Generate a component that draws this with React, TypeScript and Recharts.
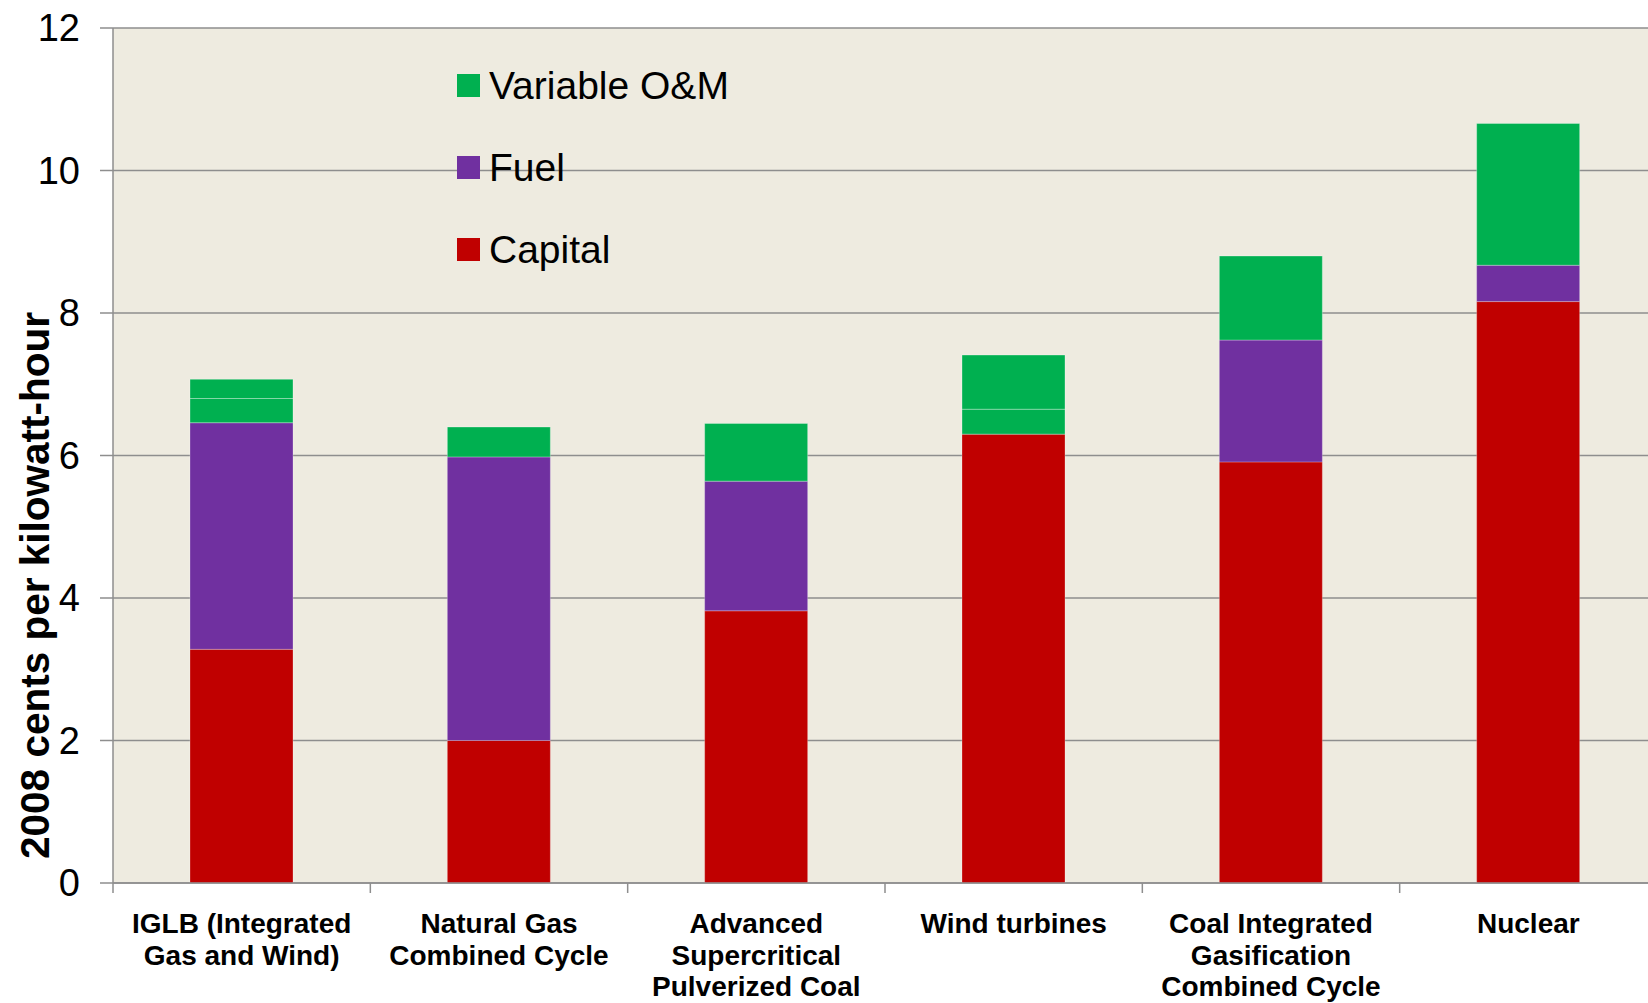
import React from 'react';
import { BarChart, Bar, XAxis, YAxis, CartesianGrid, Legend } from 'recharts';

const categories = [
  'IGLB (Integrated\nGas and Wind)',
  'Natural Gas\nCombined Cycle',
  'Advanced\nSupercritical\nPulverized Coal',
  'Wind turbines',
  'Coal Integrated\nGasification\nCombined Cycle',
  'Nuclear',
];
const capital = [3.28, 2.0, 3.82, 6.3, 5.91, 8.16];
const fuel = [3.18, 3.98, 1.82, 0, 1.71, 0.51];
const variableOM = [0.34, 0.42, 0.81, 0.35, 1.18, 1.99];
const extraOM = [0.27, 0, 0, 0.76, 0, 0];
const yTicks = [0, 2, 4, 6, 8, 10, 12];

const RED = '#C00000';
const PURPLE = '#7030A0';
const GREEN = '#00B050';
const GRID = '#8e8e8e';
const FONT = '"Liberation Sans", Arial, sans-serif';

const legendItems = [
  { label: 'Variable O&M', color: GREEN },
  { label: 'Fuel', color: PURPLE },
  { label: 'Capital', color: RED },
];

const data = categories.map((name, i) => ({
  name,
  capital: capital[i],
  fuel: fuel[i],
  variableOM: variableOM[i],
  extraOM: extraOM[i],
}));

// tick marks sit on the category boundaries (half a band left of the label)
const CategoryTick = (props: any) => {
  const { x, y, payload, index } = props;
  const half = payload.offset || 0;
  const lines = String(payload.value).split('\n');
  return (
    <g>
      <line x1={x - half} x2={x - half} y1={y} y2={y + 10} stroke={GRID} strokeWidth={1.5} />
      {index === categories.length - 1 && (
        <line x1={x + half} x2={x + half} y1={y} y2={y + 10} stroke={GRID} strokeWidth={1.5} />
      )}
      <text x={x} y={y} textAnchor="middle" fontFamily={FONT} fontSize={28} fontWeight="bold" fill="#000">
        {lines.map((line, i) => (
          <tspan key={i} x={x} dy={i === 0 ? 50 : 31.5}>
            {line}
          </tspan>
        ))}
      </text>
    </g>
  );
};

const YLabel = (props: any) => {
  const { viewBox } = props;
  const cx = viewBox.x + 49;
  const cy = viewBox.y + viewBox.height / 2 + 130;
  return (
    <text
      x={cx}
      y={cy}
      transform={`rotate(-90, ${cx}, ${cy})`}
      textAnchor="middle"
      fontFamily={FONT}
      fontSize={40.5}
      fontWeight="bold"
      fill="#000"
    >
      2008 cents per kilowatt-hour
    </text>
  );
};

const renderLegend = () => (
  <div style={{ fontFamily: FONT, fontSize: 39, color: '#000' }}>
    {legendItems.map((item) => (
      <div key={item.label} style={{ display: 'flex', alignItems: 'center', height: 82 }}>
        <span style={{ width: 23, height: 23, background: item.color, marginRight: 9, display: 'inline-block' }} />
        <span style={{ lineHeight: 1 }}>{item.label}</span>
      </div>
    ))}
  </div>
);

export default function App() {
  return (
    <div
      style={{
        position: 'fixed',
        left: 0,
        top: 0,
        width: 1648,
        height: 1003,
        overflow: 'hidden',
        background: '#fff',
      }}
    >
      <BarChart
        width={1660}
        height={1003}
        data={data}
        margin={{ top: 28, right: 3, left: 0, bottom: 0 }}
        barSize={103}
      >
        <CartesianGrid vertical={false} stroke={GRID} strokeWidth={1.5} fill="#EEEBE0" fillOpacity={1} />
        <XAxis
          dataKey="name"
          interval={0}
          tick={<CategoryTick />}
          tickLine={false}
          axisLine={{ stroke: GRID, strokeWidth: 1.5 }}
          tickSize={0}
          tickMargin={0}
          height={120}
        />
        <YAxis
          domain={[0, 12]}
          ticks={yTicks}
          interval={0}
          width={113}
          tickSize={13}
          tickMargin={20}
          stroke={GRID}
          strokeWidth={1.5}
          tick={{ fill: '#000', fontSize: 38, fontFamily: FONT }}
          label={<YLabel />}
        />
        <Legend
          layout="vertical"
          align="center"
          verticalAlign="middle"
          content={renderLegend}
          wrapperStyle={{ position: 'absolute', left: 457, top: 44, width: 'auto', height: 'auto' }}
        />
        <Bar dataKey="capital" name="Capital" stackId="a" fill={RED} stroke="rgba(255,255,255,0.25)" strokeWidth={1} isAnimationActive={false} />
        <Bar dataKey="fuel" name="Fuel" stackId="a" fill={PURPLE} stroke="rgba(255,255,255,0.25)" strokeWidth={1} isAnimationActive={false} />
        <Bar dataKey="variableOM" name="Variable O&M" stackId="a" fill={GREEN} stroke="rgba(255,255,255,0.3)" strokeWidth={1} isAnimationActive={false} />
        <Bar dataKey="extraOM" name="O&M" legendType="none" stackId="a" fill={GREEN} stroke="rgba(255,255,255,0.3)" strokeWidth={1} isAnimationActive={false} />
      </BarChart>
    </div>
  );
}
